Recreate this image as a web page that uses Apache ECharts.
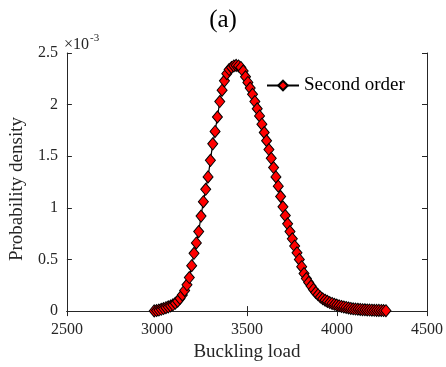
<!DOCTYPE html>
<html>
<head>
<meta charset="utf-8">
<script src="https://cdn.jsdelivr.net/npm/echarts@6/dist/echarts.min.js"></script>
<style>
html,body{margin:0;padding:0;background:#fff;}
#chart{width:446px;height:367px;}
</style>
</head>
<body>
<div id="chart"></div>
<script>
// Buckling load (x) sample points
const loads = [2985,2998,3011,3024,3037,3050,3063,3076,3089,3102,3115,3128,3141,3154,3167,3180,3193,3206,3219,3232,
  3245,3258,3271,3284,3297,3310,3323,3336,3349,3362,3375,3388,3401,3414,3427,3440,3453,3466,3479,3492,
  3505,3518,3531,3544,3557,3570,3583,3596,3609,3622,3635,3648,3661,3674,3687,3700,3713,3726,3739,3752,
  3765,3778,3791,3804,3817,3830,3843,3856,3869,3882,3895,3908,3921,3934,3947,3960,3973,3986,3999,4012,
  4025,4038,4051,4064,4077,4090,4103,4116,4129,4142,4155,4168,4181,4194,4207,4220,4233,4246,4259,4272];
// Probability density, in units of 1e-3
const density = [0.002,0.005,0.010,0.017,0.025,0.033,0.041,0.050,0.061,0.076,0.096,0.122,0.157,0.200,0.255,0.325,0.440,0.560,0.660,0.770,
  0.920,1.060,1.180,1.300,1.460,1.620,1.740,1.880,2.030,2.140,2.230,2.300,2.340,2.360,2.375,2.380,2.375,2.360,2.325,2.270,
  2.215,2.160,2.100,2.030,1.960,1.890,1.810,1.730,1.650,1.565,1.480,1.390,1.300,1.210,1.110,1.010,0.925,0.845,0.770,0.700,
  0.630,0.565,0.500,0.430,0.364,0.315,0.278,0.243,0.210,0.180,0.158,0.136,0.119,0.105,0.094,0.083,0.074,0.066,0.058,0.051,
  0.045,0.040,0.035,0.030,0.026,0.022,0.020,0.018,0.016,0.014,0.013,0.011,0.010,0.009,0.008,0.007,0.007,0.006,0.005,0.004];
const xTicks = {min: 2500, max: 4500, interval: 500};
const yTicks = {min: 0, max: 2.5, interval: 0.5};
const seriesName = 'Second order';
const titleText = '(a)';
const xName = 'Buckling load';
const yName = 'Probability density';

const font = '"Liberation Serif","Times New Roman",serif';
const axisColor = '#262626';
const chart = echarts.init(document.getElementById('chart'), null, {renderer: 'canvas'});
const pts = loads.map((x, i) => [x, density[i]]);
const baseAxis = {
  axisLine: {show: true, lineStyle: {color: axisColor, width: 1}},
  axisTick: {show: true, inside: true, length: 5, lineStyle: {color: axisColor}},
  splitLine: {show: false}
};
chart.setOption({
  animation: false,
  backgroundColor: '#fff',
  title: {text: titleText, left: 'center', top: 3,
    textStyle: {fontFamily: font, fontSize: 25, fontWeight: 'normal', color: '#000'}},
  grid: {left: 63, right: 17, top: 53, bottom: 53, containLabel: false},
  legend: {data: [seriesName], left: 261, top: 71, itemWidth: 32, itemHeight: 12, itemGap: 4,
    textStyle: {fontFamily: font, fontSize: 19, color: '#000'}},
  graphic: [
    {type: 'text', left: 64, top: 37, style: {text: '×10', font: '16px ' + font, fill: axisColor}},
    {type: 'text', left: 90, top: 33, style: {text: '-3', font: '11px ' + font, fill: axisColor}}
  ],
  xAxis: [
    Object.assign({type: 'value', position: 'bottom', min: xTicks.min, max: xTicks.max, interval: xTicks.interval,
      name: xName, nameLocation: 'middle', nameGap: 31,
      nameTextStyle: {fontFamily: font, fontSize: 19, color: axisColor},
      axisLabel: {fontFamily: font, fontSize: 16, color: axisColor, margin: 11, formatter: v => String(v)}}, baseAxis),
    Object.assign({type: 'value', position: 'top', min: xTicks.min, max: xTicks.max, interval: xTicks.interval,
      axisLabel: {show: false}}, baseAxis)
  ],
  yAxis: [
    Object.assign({type: 'value', position: 'left', min: yTicks.min, max: yTicks.max, interval: yTicks.interval,
      name: yName, nameLocation: 'middle', nameGap: 26,
      nameTextStyle: {fontFamily: font, fontSize: 19, color: axisColor, padding: [0, 14, 0, 0]},
      axisLabel: {fontFamily: font, fontSize: 16, color: axisColor, margin: 9}}, baseAxis),
    Object.assign({type: 'value', position: 'right', min: yTicks.min, max: yTicks.max, interval: yTicks.interval,
      axisLabel: {show: false}}, baseAxis)
  ],
  series: [{
    name: seriesName, type: 'line', data: pts, xAxisIndex: 0, yAxisIndex: 0,
    symbol: 'diamond', symbolSize: [10, 12], showAllSymbol: true,
    lineStyle: {color: '#000', width: 1.2},
    itemStyle: {color: '#ff0000', borderColor: '#000', borderWidth: 1}
  }]
});
</script>
</body>
</html>
